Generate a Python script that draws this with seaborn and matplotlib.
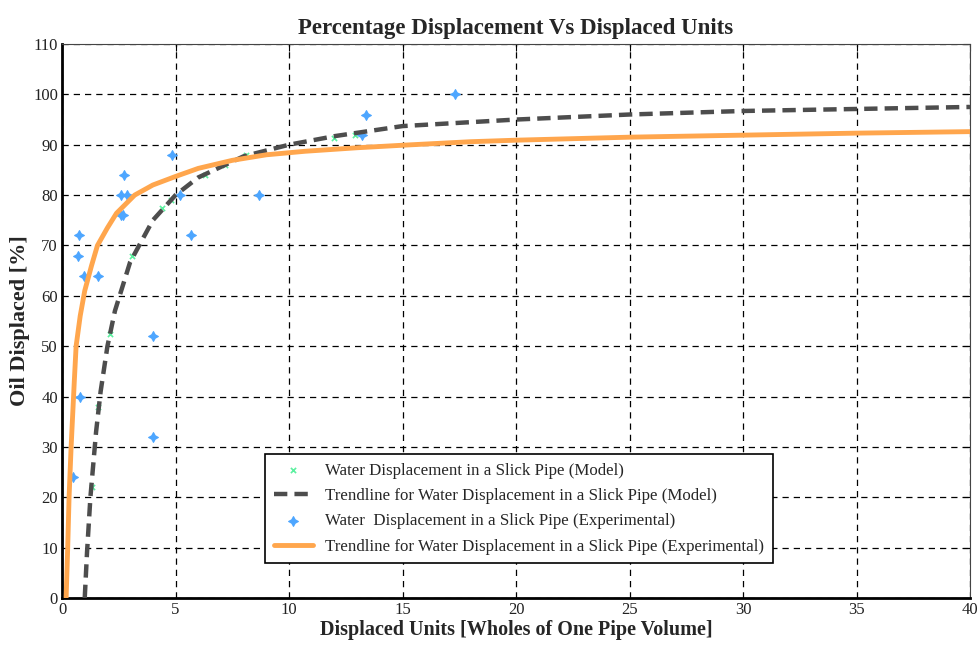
import numpy as np
import pandas as pd
import matplotlib.pyplot as plt
import seaborn as sns

# experimental points (blue)
exp_x = [0.5, 0.79, 0.72, 0.75, 0.98, 1.6, 2.6, 2.7, 2.6, 2.85, 2.74, 4.0, 4.0,
         4.83, 5.2, 5.68, 8.68, 13.2, 13.4, 17.3]
exp_y = [24, 40, 68, 72, 64, 64, 76, 76, 80, 80, 84, 52, 32,
         88, 80, 72, 80, 92, 96, 100]

# model points (green)
mod_x = [1.3, 1.6, 2.1, 3.1, 4.4, 4.8, 6.3, 7.2, 8.1, 12.0, 12.9]
mod_y = [22, 38, 52.5, 68, 77.4, 79, 84, 86, 88, 91.3, 92]

# trendlines
trend_mod_x = [1.0, 1.1, 1.25, 1.5, 1.7, 2.0, 2.33, 3.0, 4.0, 5.0, 6.0, 8.0, 10.0,
               12.0, 15.0, 20.0, 25.0, 30.0, 35.0, 40.0]
trend_mod_y = [0, 9, 20, 33, 41, 50, 57, 66.7, 75, 80, 83.5, 87.7, 90,
               91.7, 93.7, 95, 96, 96.7, 97.1, 97.5]
trend_exp_x = [0.18, 0.25, 0.31, 0.4, 0.54, 0.62, 0.8, 1.0, 1.3, 1.56, 2.0, 2.4, 3.2,
               4.0, 5.0, 6.0, 7.5, 9.0, 10.7, 13.0, 15.0, 18.0, 20.0, 25.0, 30.0, 35.0, 40.0]
trend_exp_y = [0, 10, 20, 30, 43, 50, 56, 61, 66, 70, 73.5, 76.4, 80,
               82, 83.7, 85.3, 86.9, 88, 88.7, 89.4, 89.9, 90.6, 90.9, 91.5, 91.9, 92.3, 92.6]

sns.set_style('white')
plt.rcParams['font.family'] = ['Liberation Serif', 'DejaVu Serif']

fig = plt.figure(figsize=(9.8, 6.47), dpi=100)
ax = fig.add_axes([0.0633, 0.0757, 0.9265, 0.8563])

sns.scatterplot(x=mod_x, y=mod_y, ax=ax, marker='x', color='#5cf0a0', s=14, linewidth=1.2,
                label='Water Displacement in a Slick Pipe (Model)', zorder=4)
sns.lineplot(x=trend_mod_x, y=trend_mod_y, ax=ax, color='#4d4d4d', linewidth=3.2,
             linestyle=(0, (3, 1.6)), label='Trendline for Water Displacement in a Slick Pipe (Model)', zorder=5)
sns.scatterplot(x=exp_x, y=exp_y, ax=ax, marker=(4, 1, 0), color='#4da6ff', s=50, linewidth=0.8,
                edgecolor='#4da6ff', label='Water  Displacement in a Slick Pipe (Experimental)', zorder=4)
sns.lineplot(x=trend_exp_x, y=trend_exp_y, ax=ax, color='#ffa64d', linewidth=3.5,
             label='Trendline for Water Displacement in a Slick Pipe (Experimental)', zorder=6)

ax.set_xlim(0, 40)
ax.set_ylim(0, 110)
ax.set_xticks(np.arange(0, 41, 5))
ax.set_yticks(np.arange(0, 111, 10))
ax.grid(True, color='black', linestyle=(0, (5, 4)), linewidth=0.9)
ax.tick_params(direction='in', labelsize=12, length=5, pad=3, top=True, right=True,
               colors='black', labelcolor='#222222')
for s in ['top', 'right']:
    ax.spines[s].set_linewidth(0.8)
    ax.spines[s].set_color('#444444')
for s in ['left', 'bottom']:
    ax.spines[s].set_linewidth(2)
    ax.spines[s].set_color('black')

ax.set_title('Percentage Displacement Vs Displaced Units', fontsize=16.5, fontweight='bold', pad=7)
ax.set_xlabel('Displaced Units [Wholes of One Pipe Volume]', fontsize=14.5, fontweight='bold', labelpad=1)
ax.set_ylabel('Oil Displaced [%]', fontsize=16, fontweight='bold', labelpad=2)

leg = ax.legend(loc='lower left', bbox_to_anchor=(0.2236, 0.063), borderaxespad=0,
                fontsize=12.2, frameon=True, fancybox=False, edgecolor='black', framealpha=1,
                handlelength=2.35, handletextpad=0.7, borderpad=0.5, labelspacing=0.55)
leg.get_frame().set_linewidth(1.2)

plt.savefig('out.png', dpi=100)
